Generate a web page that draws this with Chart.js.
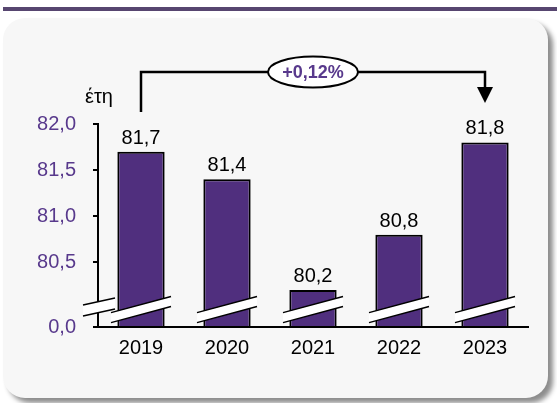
<!DOCTYPE html>
<html>
<head>
<meta charset="utf-8">
<script src="https://cdn.jsdelivr.net/npm/chart.js@4.4.1/dist/chart.umd.min.js"></script>
<style>
  html, body { margin: 0; padding: 0; background: #fff; }
</style>
</head>
<body>
<canvas id="lifeChart" width="557" height="403"></canvas>
<script>
// data
var years = ['2019', '2020', '2021', '2022', '2023'];
var lifeExpectancy = [81.7, 81.4, 80.2, 80.8, 81.8];
var yTicks = [80.5, 81.0, 81.5, 82.0];
var axisMin = 79.8;      // shown as "0,0" under the axis break
var breakValue = 80.0;
var unitLabel = 'έτη';
var changeLabel = '+0,12%';

var barPurple = '#502f7e';
var tickPurple = '#58398c';
var fontFamily = "'Liberation Sans', Arial, sans-serif";

function fmt(v) {
    return v.toFixed(1).replace('.', ',');
}

// background panel + top band
var panelPlugin = {
    id: 'panel',
    beforeDraw: function(chart) {
        var c = chart.ctx;
        c.save();
        c.fillStyle = '#ffffff';
        c.fillRect(0, 0, chart.width, chart.height);
        c.fillStyle = '#574670';
        c.fillRect(3, 7, chart.width - 3, 4);
        c.shadowColor = 'rgba(0,0,0,0.45)';
        c.shadowOffsetX = 5;
        c.shadowOffsetY = 5;
        c.shadowBlur = 5;
        c.fillStyle = '#f7f7f7';
        c.beginPath();
        c.roundRect(3, 18, 545, 380, 22);
        c.fill();
        c.restore();
    }
};

function drawBreak(c, cx, cy, halfLen, slope, halfGap) {
    var x0 = cx - halfLen, x1 = cx + halfLen;
    var y0 = cy + halfLen * slope, y1 = cy - halfLen * slope;
    c.beginPath();
    c.moveTo(x0, y0 - halfGap);
    c.lineTo(x1, y1 - halfGap);
    c.lineTo(x1, y1 + halfGap);
    c.lineTo(x0, y0 + halfGap);
    c.closePath();
    c.fillStyle = '#ffffff';
    c.fill();
    c.beginPath();
    c.moveTo(x0, y0 - halfGap);
    c.lineTo(x1, y1 - halfGap);
    c.moveTo(x0, y0 + halfGap);
    c.lineTo(x1, y1 + halfGap);
    c.lineWidth = 1.5;
    c.strokeStyle = '#000';
    c.stroke();
}

// breaks, value labels, unit label, change arrow
var extrasPlugin = {
    id: 'extras',
    afterDatasetsDraw: function(chart) {
        var c = chart.ctx;
        var meta = chart.getDatasetMeta(0);
        var yScale = chart.scales.y;
        var area = chart.chartArea;
        var yBreak = yScale.getPixelForValue(breakValue);
        c.save();

        // axis break
        drawBreak(c, area.left + 1, yBreak - 1.5, 16, 0.22, 5.5);
        // bar breaks
        meta.data.forEach(function(bar) {
            drawBreak(c, bar.x, yBreak + 1, 30, 0.27, 5);
        });

        // value labels
        c.fillStyle = '#000';
        c.font = '20px ' + fontFamily;
        c.textAlign = 'center';
        c.textBaseline = 'alphabetic';
        meta.data.forEach(function(bar, i) {
            c.fillText(fmt(lifeExpectancy[i]), bar.x, bar.y - 8);
        });

        // unit
        c.fillText(unitLabel, area.left + 1, area.top - 21);

        // change arrow 2019 -> 2023
        var left = meta.data[0].x;
        var right = meta.data[meta.data.length - 1].x;
        var lineY = area.top - 52;
        c.lineWidth = 2.5;
        c.strokeStyle = '#000';
        c.lineJoin = 'miter';
        c.beginPath();
        c.moveTo(left, area.top - 12);
        c.lineTo(left, lineY);
        c.lineTo(right, lineY);
        c.lineTo(right, lineY + 16);
        c.stroke();
        c.beginPath();
        c.moveTo(right - 8, lineY + 15);
        c.lineTo(right + 8, lineY + 15);
        c.lineTo(right, lineY + 31);
        c.closePath();
        c.fillStyle = '#000';
        c.fill();

        var ex = (left + right) / 2;
        c.beginPath();
        c.ellipse(ex, lineY, 45, 15.5, 0, 0, Math.PI * 2);
        c.fillStyle = '#ffffff';
        c.fill();
        c.lineWidth = 2;
        c.stroke();
        c.fillStyle = tickPurple;
        c.font = 'bold 18px ' + fontFamily;
        c.textBaseline = 'middle';
        c.fillText(changeLabel, ex, lineY + 1);

        c.restore();
    }
};

var ctx = document.getElementById('lifeChart').getContext('2d');
var lifeChart = new Chart(ctx, {
    type: 'bar',
    data: {
        labels: years,
        datasets: [{
            data: lifeExpectancy,
            base: axisMin,
            backgroundColor: barPurple,
            borderColor: '#000',
            borderWidth: 2,
            borderSkipped: 'start',
            categoryPercentage: 1.0,
            barPercentage: 0.55
        }]
    },
    options: {
        responsive: false,
        animation: false,
        events: [],
        layout: {
            padding: { left: 0, top: 124, right: 29, bottom: 0 }
        },
        plugins: {
            legend: { display: false },
            tooltip: { enabled: false }
        },
        scales: {
            x: {
                grid: { display: false, drawTicks: false },
                border: { display: true, color: '#000', width: 2 },
                ticks: {
                    color: '#000',
                    padding: 9,
                    font: { family: fontFamily, size: 20 }
                },
                afterFit: function(scale) { scale.height = 76; }
            },
            y: {
                min: axisMin,
                max: 82.0,
                grid: {
                    drawOnChartArea: false,
                    drawTicks: true,
                    tickLength: 5,
                    color: '#000',
                    lineWidth: 2
                },
                border: { display: true, color: '#000', width: 2 },
                ticks: {
                    color: tickPurple,
                    padding: 17,
                    autoSkip: false,
                    font: { family: fontFamily, size: 20 },
                    callback: function(value) {
                        return value === axisMin ? '0,0' : fmt(value);
                    }
                },
                afterBuildTicks: function(scale) {
                    scale.ticks = [axisMin].concat(yTicks).map(function(v) {
                        return { value: v };
                    });
                },
                afterFit: function(scale) { scale.width = 98; }
            }
        }
    },
    plugins: [panelPlugin, extrasPlugin]
});
</script>
</body>
</html>
